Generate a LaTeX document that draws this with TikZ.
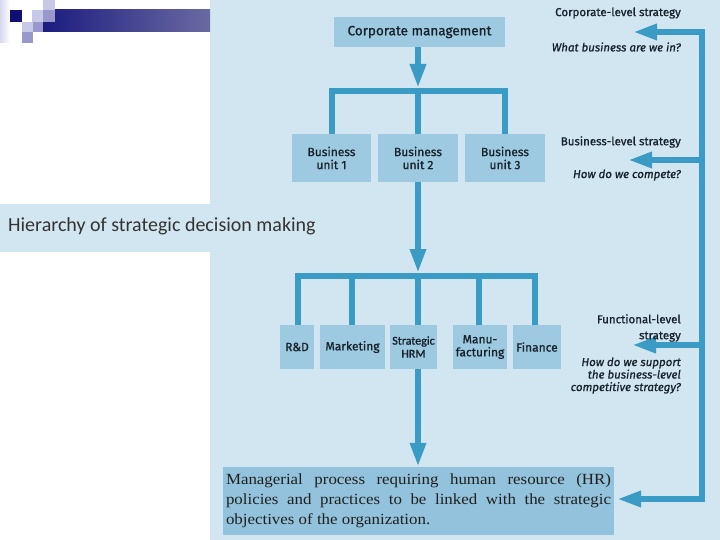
\documentclass[tikz,border=0pt]{standalone}
\usepackage{fontspec}
\setmainfont{Liberation Serif}
\newfontfamily\serifw{Liberation Serif}[FakeStretch=1.09]
\newfontfamily\dsans{Fira Sans}[FakeBold=0.9]
\newfontfamily\tsans{Carlito}
\newfontfamily\hsans{Carlito}[FakeBold=1.2]
\usetikzlibrary{arrows.meta,calc}
\definecolor{bg}{HTML}{D2E6F1}
\definecolor{boxc}{HTML}{9DCAE0}
\definecolor{bottomc}{HTML}{93C3DC}
\definecolor{linec}{HTML}{3A9CC4}
\definecolor{txt}{HTML}{17222C}
\definecolor{navy}{HTML}{101070}
\definecolor{lav}{HTML}{C8C8E8}
\definecolor{mlav}{HTML}{9898CC}
\definecolor{barl}{HTML}{1C1C80}
\definecolor{barr}{HTML}{6A6AA2}
\begin{document}
\begin{tikzpicture}[x=1pt,y=-1pt,
  box/.style={fill=boxc, inner sep=0pt, text=txt, align=center, font=\dsans\fontsize{12}{13}\selectfont},
  conn/.style={draw=linec, line width=6pt},
  arr/.style={conn, -{Triangle[length=24pt,width=15pt]}},
  lab/.style={font=\dsans\fontsize{11.5}{12.5}\selectfont, text=txt, inner sep=0pt},
  ilab/.style={lab, font=\dsans\itshape\fontsize{11.5}{12.5}\selectfont},
]
\useasboundingbox (0,0) rectangle (720,540);
% backgrounds
\fill[white] (0,0) rectangle (720,540);
\fill[bg] (210,0) rectangle (720,540);
\fill[bg] (0,204) rectangle (210,252);
% top-left decoration
\shade[left color=lav!70, right color=white] (0,0) rectangle (10,43);
\shade[left color=barl, right color=barr] (43,10) rectangle (210,32);
\fill[navy] (10,10) rectangle (22,22);
\fill[lav] (32,10) rectangle (43,22);
\fill[lav] (43,0) rectangle (55,10);
\fill[mlav] (43,10) rectangle (55,22);
\fill[lav] (22,22) rectangle (33,32);
\fill[mlav] (33,22) rectangle (43,32);
\fill[mlav] (22,32) rectangle (33,43);
% title
\node[anchor=west, inner sep=0pt, text=black!80, font=\tsans\fontsize{20}{22}\selectfont] (title) at (8,226) {Hierarchy of strategic decision making};

% boxes
\node[box, minimum width=171pt, minimum height=30pt, font=\dsans\fontsize{13.5}{14}\selectfont] (corp) at (419.5,32) {Corporate management};
\node[box, minimum width=79pt, minimum height=48pt] (bu1) at (331.5,158) {Business\\unit 1};
\node[box, minimum width=80pt, minimum height=48pt] (bu2) at (418,158) {Business\\unit 2};
\node[box, minimum width=80pt, minimum height=48pt] (bu3) at (505,158) {Business\\unit 3};

\node[box, minimum width=34pt, minimum height=44pt] (rd) at (297,347) {R\&D};
\node[box, minimum width=65pt, minimum height=44pt] (mkt) at (352.5,347) {Marketing};
\node[box, minimum width=47pt, minimum height=44pt, font=\hsans\fontsize{12}{13}\selectfont] (hrm) at (413.5,347) {Strategic\\HRM};
\node[box, minimum width=54pt, minimum height=44pt] (man) at (480,347) {Manu-\\facturing};
\node[box, minimum width=48pt, minimum height=44pt] (fin) at (537,347) {Finance};

\node[fill=bottomc, minimum width=391pt, minimum height=68pt, inner sep=0pt, text=black!88] (bottom) at (418.5,501)
  {\parbox{385pt}{\serifw\fontsize{15.5}{20}\selectfont\hyphenpenalty=10000
  Managerial process requiring human resource (HR)\linebreak[4]
  policies and practices to be linked with the strategic\linebreak[4]
  objectives of the organization.}};

% coordinates
\coordinate (j1) at (418,88);
\coordinate (j2) at (418,273);
\coordinate (fbtop) at (702,32);
\coordinate (fbbot) at (702,499);
\coordinate (fbmid2) at (702,160);
\coordinate (fbmid3) at (702,345);
\coordinate (tip1) at (633,32);
\coordinate (tip2) at (628,160);
\coordinate (tip3) at (632,345);
\coordinate (tip4) at (617,499);

% hierarchy connectors
\draw[arr] (corp.south -| j1) -- (j1);
\draw[conn] (bu1.north) -- (bu1.north |- 0,91) -- (bu3.north |- 0,91) -- (bu3.north);
\draw[conn] (j1) -- (bu2.north -| j1);

\draw[arr] (bu2.south -| j2) -- (j2);
\draw[conn] (298,325) -- (298,276) -- (535,276) -- (535,325);
\draw[conn] (352,276) -- (mkt.north -| 352,0);
\draw[conn] (j2) -- (hrm.north -| j2);
\draw[conn] (479,276) -- (man.north -| 479,0);

\draw[arr] (hrm.south -| j2) -- (bottom.north -| j2);

% feedback loop
\draw[arr] (fbbot) -- (fbtop) -- (tip1);
\draw[arr] (fbtop) -- (fbbot) -- (tip4);
\draw[arr] (fbmid2) -- (tip2);
\draw[arr] (fbmid3) -- (tip3);

% labels
\node[lab, anchor=east] (l1) at (681,13) {Corporate-level strategy};
\node[ilab, anchor=east] (q1) at (681,47) {What business are we in?};
\node[lab, anchor=east] (l2) at (681,142) {Business-level strategy};
\node[ilab, anchor=east] (q2) at (681,175) {How do we compete?};
\node[lab, anchor=east, align=right, font=\dsans\fontsize{11.5}{16}\selectfont] (l3) at (681,328) {Functional-level\\strategy};
\node[ilab, anchor=east, align=right] (q3) at (681,375.5) {How do we support\\the business-level\\competitive strategy?};
\end{tikzpicture}
\end{document}
